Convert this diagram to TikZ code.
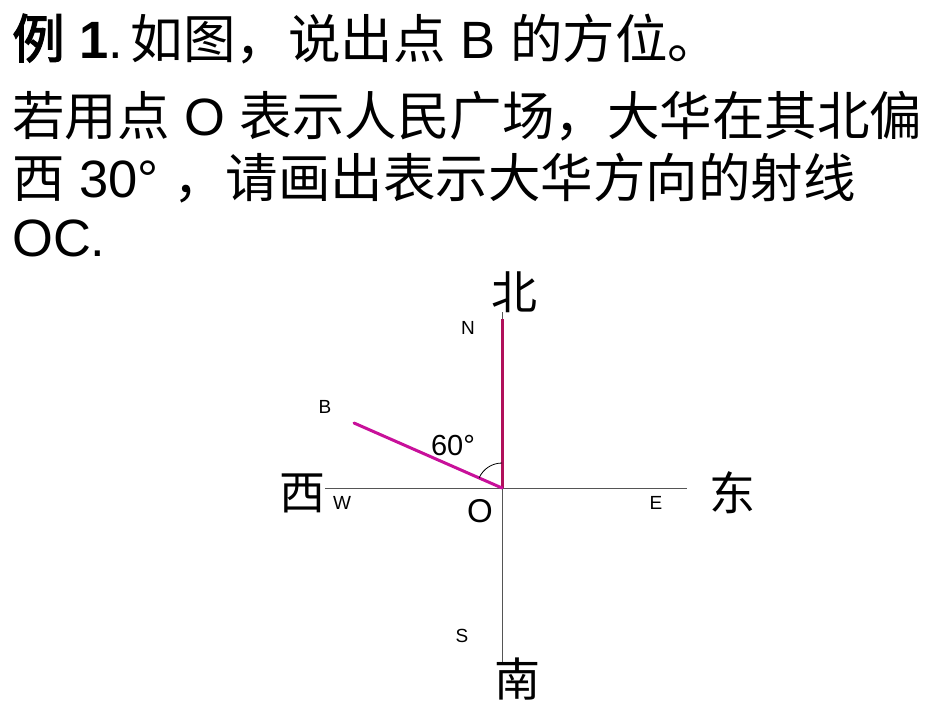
\documentclass[tikz,border=0pt]{standalone}
\usepackage{fontspec}
\setmainfont{Liberation Sans}
\newfontfamily\cjk{Noto Sans CJK SC}
\newfontfamily\cjkb{Noto Sans CJK SC}[FakeBold=2.5]
\definecolor{northred}{HTML}{B0105A}
\definecolor{bmag}{HTML}{C8109A}
\definecolor{axisgray}{HTML}{555555}
\begin{document}
\begin{tikzpicture}[x=1pt,y=-1pt,
  line1/.style={anchor=base west,inner sep=0pt,font=\fontsize{52.5}{60}\selectfont},
  dirlab/.style={inner sep=0pt,font=\cjk\fontsize{46}{50}\selectfont},
  letlab/.style={inner sep=0pt,font=\fontsize{19}{22}\selectfont},
  axis/.style={draw=axisgray,line width=0.9pt},
  ray/.style={line width=3pt}]
\useasboundingbox (0,0) rectangle (950,713);
% text
\node[line1] (t1) at (12,58) {{\cjkb 例} \textbf{1}.\hspace{0.15em}{\cjk 如图，说出点} B {\cjk 的方位。}};
\node[line1] (t2) at (12,135) {{\cjk 若用点} O {\cjk 表示人民广场，大华在其北偏}};
\node[line1] (t3) at (12,197) {{\cjk 西} 30° {\cjk ，请画出表示大华方向的射线}};
\node[line1] (t4) at (12,256) {OC.};
% geometry
\coordinate (O) at (502,488);
\coordinate (Wend) at (325,488);
\coordinate (Eend) at (687,488);
\coordinate (Nend) at (502,312);
\coordinate (Send) at (502,663);
\coordinate (Ntop) at (502,319);
\coordinate (Bpt) at (354,423);
\draw[axis] (Wend) -- (Eend);
\draw[axis] (Nend) -- (Send);
\draw[ray,draw=northred] (O) -- (Ntop);
\draw[ray,draw=bmag,line cap=round] (Bpt) -- (O);
\draw[line width=0.8pt] ([shift={(90:-25)}]O) arc[start angle=-90,end angle=-156.3,radius=25];
% labels
\node[dirlab] (bei) at (514,292) {北};
\node[dirlab] (xi) at (302,493) {西};
\node[dirlab] (dong) at (732,493) {东};
\node[dirlab] (nan) at (517,679) {南};
\node[letlab] (Nl) at (468,328) {N};
\node[letlab] (Bl) at (325,407) {B};
\node[letlab] (Wl) at (342,503) {W};
\node[letlab] (El) at (656,503) {E};
\node[letlab] (Sl) at (462,636) {S};
\node[inner sep=0pt,font=\fontsize{33}{36}\selectfont] (Ol) at (480,511) {O};
\node[inner sep=0pt,font=\fontsize{29}{32}\selectfont] (ang) at (453,446) {60°};
\end{tikzpicture}
\end{document}
